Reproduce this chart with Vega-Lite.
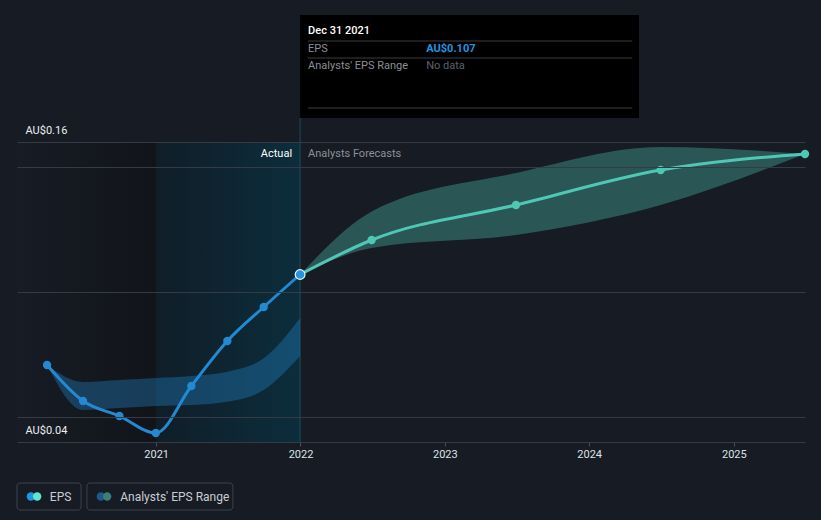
{
  "$schema": "https://vega.github.io/schema/vega-lite/v6.json",
  "autosize": {"type": "none"},
  "padding": {"left": 17, "top": 142, "right": 16, "bottom": 78},
  "width": 788,
  "height": 300,
  "background": "#161b24",
  "config": {
    "font": "Roboto",
    "view": {"stroke": null},
    "axis": {"labelFont": "Roboto", "titleFont": "Roboto"}
  },
  "datasets": {
    "eps": [
      {"date": "2020-03-31", "eps": 0.0708, "series": "Actual"},
      {"date": "2020-06-30", "eps": 0.0564, "series": "Actual"},
      {"date": "2020-09-30", "eps": 0.0504, "series": "Actual"},
      {"date": "2020-12-31", "eps": 0.0436, "series": "Actual"},
      {"date": "2021-03-31", "eps": 0.0624, "series": "Actual"},
      {"date": "2021-06-30", "eps": 0.0804, "series": "Actual"},
      {"date": "2021-09-30", "eps": 0.094, "series": "Actual"},
      {"date": "2021-12-31", "eps": 0.107, "series": "Actual"},
      {"date": "2021-12-31", "eps": 0.107, "series": "Forecast"},
      {"date": "2022-06-30", "eps": 0.1208, "series": "Forecast"},
      {"date": "2023-06-30", "eps": 0.1348, "series": "Forecast"},
      {"date": "2024-06-30", "eps": 0.1488, "series": "Forecast"},
      {"date": "2025-06-30", "eps": 0.1552, "series": "Forecast"}
    ],
    "range": [
      {"date": "2020-03-31", "lo": 0.0708, "hi": 0.0708, "series": "Actual"},
      {"date": "2020-06-30", "lo": 0.0528, "hi": 0.064, "series": "Actual"},
      {"date": "2020-09-30", "lo": 0.0536, "hi": 0.0648, "series": "Actual"},
      {"date": "2020-12-31", "lo": 0.0544, "hi": 0.0656, "series": "Actual"},
      {"date": "2021-03-31", "lo": 0.0548, "hi": 0.0664, "series": "Actual"},
      {"date": "2021-06-30", "lo": 0.0561, "hi": 0.0681, "series": "Actual"},
      {"date": "2021-09-30", "lo": 0.0608, "hi": 0.0735, "series": "Actual"},
      {"date": "2021-12-31", "lo": 0.0744, "hi": 0.0896, "series": "Actual"},
      {"date": "2021-12-31", "lo": 0.107, "hi": 0.107, "series": "Forecast"},
      {"date": "2022-06-30", "lo": 0.1176, "hi": 0.1322, "series": "Forecast"},
      {"date": "2023-06-30", "lo": 0.1228, "hi": 0.1476, "series": "Forecast"},
      {"date": "2024-06-30", "lo": 0.1348, "hi": 0.158, "series": "Forecast"},
      {"date": "2025-06-30", "lo": 0.1552, "hi": 0.1552, "series": "Forecast"}
    ],
    "regions": [
      {"start": "2020-01-15", "end": "2021-01-01", "region": "past"},
      {"start": "2021-01-01", "end": "2021-12-31", "region": "actual"}
    ]
  },
  "layer": [
    {
      "data": {"name": "regions"},
      "transform": [{"filter": "datum.region == 'past'"}],
      "mark": {
        "type": "rect",
        "color": {
          "gradient": "linear", "x1": 0, "x2": 1, "y1": 0, "y2": 0,
          "stops": [{"offset": 0, "color": "#171c25"}, {"offset": 1, "color": "#111419"}]
        }
      },
      "encoding": {
        "x": {
          "field": "start",
          "type": "temporal",
          "scale": {
            "type": "utc",
            "domain": [
              {"year": 2020, "month": 1, "date": 15, "utc": true},
              {"year": 2025, "month": 6, "date": 30, "utc": true}
            ]
          },
          "axis": {
            "title": null,
            "values": [
              {"year": 2021, "month": 1, "date": 1, "utc": true},
              {"year": 2022, "month": 1, "date": 1, "utc": true},
              {"year": 2023, "month": 1, "date": 1, "utc": true},
              {"year": 2024, "month": 1, "date": 1, "utc": true},
              {"year": 2025, "month": 1, "date": 1, "utc": true}
            ],
            "labelExpr": "utcFormat(datum.value, '%Y')",
            "domain": false,
            "grid": false,
            "ticks": true,
            "tickSize": 4,
            "tickColor": "#4a4f58",
            "labelColor": "#dfe2e6",
            "labelFontSize": 11,
            "labelPadding": 2
          }
        },
        "x2": {"field": "end"}
      }
    },
    {
      "data": {"name": "regions"},
      "transform": [{"filter": "datum.region == 'actual'"}],
      "mark": {
        "type": "rect",
        "color": {
          "gradient": "linear", "x1": 0, "x2": 1, "y1": 0, "y2": 0,
          "stops": [{"offset": 0, "color": "#101e28"}, {"offset": 1, "color": "#0c2d3c"}]
        }
      },
      "encoding": {
        "x": {"field": "start", "type": "temporal"},
        "x2": {"field": "end"}
      }
    },
    {
      "data": {"values": [{"label": "now"}]},
      "mark": {"type": "rule", "color": "#1f4b5a", "strokeWidth": 1},
      "encoding": {
        "x": {"datum": {"year": 2021, "month": 12, "date": 31, "utc": true}, "type": "temporal"},
        "y": {"datum": 0.04, "type": "quantitative"},
        "y2": {"datum": 0.1696}
      }
    },
    {
      "data": {"name": "range"},
      "mark": {"type": "area", "interpolate": "monotone", "opacity": 0.35},
      "encoding": {
        "x": {"field": "date", "type": "temporal"},
        "y": {
          "field": "lo", "type": "quantitative",
          "scale": {"domain": [0.04, 0.16], "zero": false, "nice": false},
          "axis": {
            "title": null,
            "values": [0.04, 0.05, 0.1, 0.15, 0.16],
            "labelExpr": "datum.value == 0.04 || datum.value == 0.16 ? 'AU$' + format(datum.value, '.2f') : ''",
            "grid": true,
            "gridColor": "#353a44",
            "gridWidth": 1,
            "domain": false,
            "ticks": false,
            "labelAlign": "left",
            "labelBaseline": "middle",
            "labelPadding": -8,
            "labelOffset": -12,
            "labelColor": "#eceef1",
            "labelFontSize": 11,
            "zindex": 1
          }
        },
        "y2": {"field": "hi"},
        "detail": {"field": "series"},
        "color": {
          "field": "series", "type": "nominal",
          "scale": {"domain": ["Actual", "Forecast"], "range": ["#2389d0", "#4fc7b5"]},
          "legend": null
        }
      }
    },
    {
      "data": {"name": "eps"},
      "mark": {"type": "line", "interpolate": "monotone", "strokeWidth": 3},
      "encoding": {
        "x": {"field": "date", "type": "temporal"},
        "y": {"field": "eps", "type": "quantitative"},
        "color": {
          "field": "series", "type": "nominal",
          "scale": {"domain": ["Actual", "Forecast"], "range": ["#2394e0", "#5ee6d0"]},
          "legend": null
        }
      }
    },
    {
      "data": {"name": "eps"},
      "transform": [{"filter": "utcyear(datum.date) != 2021 || utcmonth(datum.date) != 11"}],
      "mark": {"type": "point", "filled": true, "opacity": 1, "size": 70},
      "encoding": {
        "x": {"field": "date", "type": "temporal"},
        "y": {"field": "eps", "type": "quantitative"},
        "color": {
          "field": "series", "type": "nominal",
          "scale": {"domain": ["Actual", "Forecast"], "range": ["#2394e0", "#5ee6d0"]},
          "legend": null
        }
      }
    },
    {
      "data": {"name": "eps"},
      "transform": [{"filter": "datum.series == 'Actual' && utcyear(datum.date) == 2021 && utcmonth(datum.date) == 11"}],
      "mark": {"type": "point", "filled": true, "opacity": 1, "size": 95, "color": "#2394e0", "stroke": "#e8f4ff", "strokeWidth": 1.2},
      "encoding": {
        "x": {"field": "date", "type": "temporal"},
        "y": {"field": "eps", "type": "quantitative"}
      }
    },
    {
      "data": {"values": [{"label": "Actual"}]},
      "mark": {"type": "text", "align": "right", "baseline": "middle", "dx": -8, "color": "#ffffff", "fontSize": 11},
      "encoding": {
        "x": {"datum": {"year": 2021, "month": 12, "date": 31, "utc": true}, "type": "temporal"},
        "y": {"datum": 0.1552, "type": "quantitative"},
        "text": {"field": "label"}
      }
    },
    {
      "data": {"values": [{"label": "Analysts Forecasts"}]},
      "mark": {"type": "text", "align": "left", "baseline": "middle", "dx": 8, "color": "#8c9099", "fontSize": 11},
      "encoding": {
        "x": {"datum": {"year": 2021, "month": 12, "date": 31, "utc": true}, "type": "temporal"},
        "y": {"datum": 0.1552, "type": "quantitative"},
        "text": {"field": "label"}
      }
    },
    {
      "data": {"values": [{"label": "tooltip"}]},
      "mark": {"type": "rect", "color": "#000000", "opacity": 1},
      "encoding": {
        "x": {"datum": {"year": 2021, "month": 12, "date": 31, "utc": true}, "type": "temporal"},
        "x2": {"datum": {"year": 2024, "month": 5, "date": 6, "utc": true}},
        "y": {"datum": 0.1696, "type": "quantitative"},
        "y2": {"datum": 0.2108}
      }
    },
    {
      "data": {"values": [{"yv": 0.2004}, {"yv": 0.1936}, {"yv": 0.1736}]},
      "mark": {"type": "rule", "color": "#3c3c3c", "strokeWidth": 1},
      "encoding": {
        "x": {"datum": {"year": 2022, "month": 1, "date": 20, "utc": true}, "type": "temporal"},
        "x2": {"datum": {"year": 2024, "month": 4, "date": 19, "utc": true}},
        "y": {"field": "yv", "type": "quantitative"}
      }
    },
    {
      "data": {"values": [{"label": "Dec 31 2021"}]},
      "mark": {"type": "text", "align": "left", "baseline": "middle", "dx": 8, "color": "#ffffff", "fontSize": 11, "fontWeight": 500},
      "encoding": {
        "x": {"datum": {"year": 2021, "month": 12, "date": 31, "utc": true}, "type": "temporal"},
        "y": {"datum": 0.2044, "type": "quantitative"},
        "text": {"field": "label"}
      }
    },
    {
      "data": {"values": [{"label": "EPS", "yv": 0.1972}, {"label": "Analysts' EPS Range", "yv": 0.1904}]},
      "mark": {"type": "text", "align": "left", "baseline": "middle", "dx": 8, "color": "#8a8f98", "fontSize": 11},
      "encoding": {
        "x": {"datum": {"year": 2021, "month": 12, "date": 31, "utc": true}, "type": "temporal"},
        "y": {"field": "yv", "type": "quantitative"},
        "text": {"field": "label"}
      }
    },
    {
      "data": {"values": [{"label": "AU$0.107"}]},
      "mark": {"type": "text", "align": "left", "baseline": "middle", "color": "#2394e0", "fontSize": 11, "fontWeight": "bold"},
      "encoding": {
        "x": {"datum": {"year": 2022, "month": 11, "date": 15, "utc": true}, "type": "temporal"},
        "y": {"datum": 0.1972, "type": "quantitative"},
        "text": {"field": "label"}
      }
    },
    {
      "data": {"values": [{"label": "No data"}]},
      "mark": {"type": "text", "align": "left", "baseline": "middle", "color": "#5d626b", "fontSize": 11},
      "encoding": {
        "x": {"datum": {"year": 2022, "month": 11, "date": 15, "utc": true}, "type": "temporal"},
        "y": {"datum": 0.1904, "type": "quantitative"},
        "text": {"field": "label"}
      }
    },
    {
      "data": {"values": [{"item": "EPS"}]},
      "mark": {"type": "rect", "fill": "#161b24", "stroke": "#3d424c", "strokeWidth": 1, "cornerRadius": 3},
      "encoding": {
        "x": {"datum": {"year": 2020, "month": 1, "date": 15, "utc": true}, "type": "temporal"},
        "x2": {"datum": {"year": 2020, "month": 6, "date": 25, "utc": true}},
        "y": {"datum": 0.0236, "type": "quantitative"},
        "y2": {"datum": 0.0128}
      }
    },
    {
      "data": {"values": [{"item": "Range"}]},
      "mark": {"type": "rect", "fill": "#161b24", "stroke": "#3d424c", "strokeWidth": 1, "cornerRadius": 3},
      "encoding": {
        "x": {"datum": {"year": 2020, "month": 7, "date": 10, "utc": true}, "type": "temporal"},
        "x2": {"datum": {"year": 2021, "month": 7, "date": 14, "utc": true}},
        "y": {"datum": 0.0236, "type": "quantitative"},
        "y2": {"datum": 0.0128}
      }
    },
    {
      "data": {"values": [{"item": "EPS"}]},
      "mark": {"type": "point", "filled": true, "opacity": 1, "size": 70, "color": "#2394e0"},
      "encoding": {
        "x": {"datum": {"year": 2020, "month": 2, "date": 19, "utc": true}, "type": "temporal"},
        "y": {"datum": 0.0182, "type": "quantitative"}
      }
    },
    {
      "data": {"values": [{"item": "EPS"}]},
      "mark": {"type": "point", "filled": true, "opacity": 1, "size": 70, "color": "#5ee6d0"},
      "encoding": {
        "x": {"datum": {"year": 2020, "month": 3, "date": 6, "utc": true}, "type": "temporal"},
        "y": {"datum": 0.0182, "type": "quantitative"}
      }
    },
    {
      "data": {"values": [{"item": "Range"}]},
      "mark": {"type": "point", "filled": true, "opacity": 1, "size": 70, "color": "#1d5a88"},
      "encoding": {
        "x": {"datum": {"year": 2020, "month": 8, "date": 14, "utc": true}, "type": "temporal"},
        "y": {"datum": 0.0182, "type": "quantitative"}
      }
    },
    {
      "data": {"values": [{"item": "Range"}]},
      "mark": {"type": "point", "filled": true, "opacity": 1, "size": 70, "color": "#3b7f78"},
      "encoding": {
        "x": {"datum": {"year": 2020, "month": 8, "date": 30, "utc": true}, "type": "temporal"},
        "y": {"datum": 0.0182, "type": "quantitative"}
      }
    },
    {
      "data": {"values": [{"label": "EPS"}]},
      "mark": {"type": "text", "align": "left", "baseline": "middle", "color": "#c9cdd3", "fontSize": 12},
      "encoding": {
        "x": {"datum": {"year": 2020, "month": 4, "date": 7, "utc": true}, "type": "temporal"},
        "y": {"datum": 0.0182, "type": "quantitative"},
        "text": {"field": "label"}
      }
    },
    {
      "data": {"values": [{"label": "Analysts' EPS Range"}]},
      "mark": {"type": "text", "align": "left", "baseline": "middle", "color": "#c9cdd3", "fontSize": 12},
      "encoding": {
        "x": {"datum": {"year": 2020, "month": 10, "date": 2, "utc": true}, "type": "temporal"},
        "y": {"datum": 0.0182, "type": "quantitative"},
        "text": {"field": "label"}
      }
    }
  ]
}
